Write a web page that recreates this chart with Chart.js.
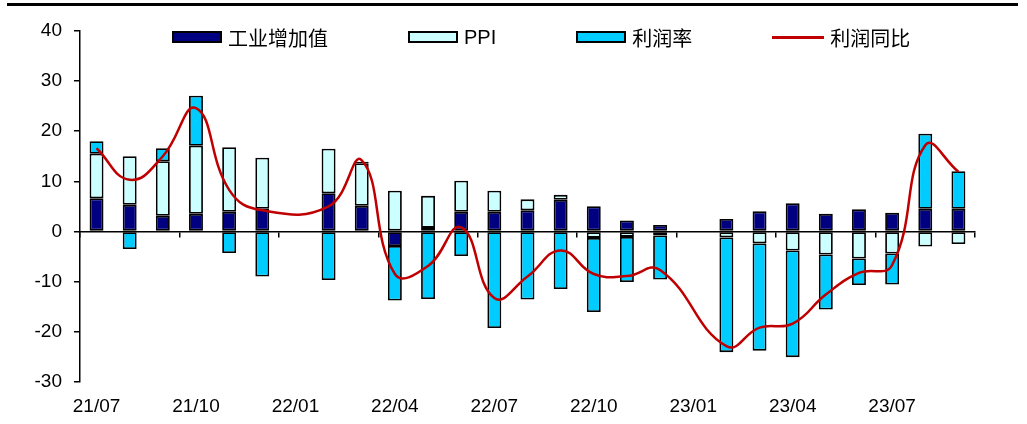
<!DOCTYPE html>
<html>
<head>
<meta charset="utf-8">
<script src="https://cdn.jsdelivr.net/npm/chart.js@4.4.0/dist/chart.umd.min.js"></script>
<style>
    body { margin: 0; background: #fff; }
    #wrap { position: relative; width: 1027px; height: 424px; }
    #topline { position: absolute; left: 7px; top: 3px; width: 1011px; height: 3px; background: #000; }
    #legend {
        position: absolute; left: 172px; top: 25px; height: 24px;
        display: flex; align-items: center;
        font-family: "Liberation Sans", "Noto Sans CJK SC", sans-serif; font-size: 20px; color: #000;
    }
    .legend-item { display: flex; align-items: center; margin-right: 80px; white-space: nowrap; }
    .swatch { width: 50px; height: 12px; box-sizing: border-box; border: 2px solid #000; margin-right: 6px; }
    .swatch.line { width: 52px; height: 3px; border: none; }
</style>
</head>
<body>
<div id="wrap">
    <canvas id="chart" width="1027" height="424"></canvas>
    <div id="topline"></div>
    <div id="legend"></div>
</div>
<script>
// months on the category axis
const months = ['21/07', '21/08', '21/09', '21/10', '21/11', '21/12', '22/01', '22/02', '22/03',
    '22/04', '22/05', '22/06', '22/07', '22/08', '22/09', '22/10', '22/11', '22/12',
    '23/01', '23/02', '23/03', '23/04', '23/05', '23/06', '23/07', '23/08', '23/09'];

// only these months get a label under the axis
const tickMonths = ['21/07', '21/10', '22/01', '22/04', '22/07', '22/10', '23/01', '23/04', '23/07'];

// bar segments (Jan is folded into Feb, so no bar there)
const valueAdded = [6.6, 5.3, 3.1, 3.5, 3.9, 4.5, null, 7.6, 5.1, -2.9, 0.7, 3.9, 3.9, 4.2,
    6.3, 5.0, 2.2, 1.3, null, 2.5, 4.0, 5.6, 3.5, 4.4, 3.7, 4.5, 4.5];
const ppi = [8.9, 9.7, 10.9, 13.6, 12.9, 10.2, null, 8.9, 8.5, 8.1, 6.4, 6.2, 4.2, 2.2,
    1.0, -1.3, -1.1, -0.8, null, -1.2, -2.4, -3.8, -4.6, -5.4, -4.4, -3.0, -2.5];
const profitMargin = [2.5, -3.5, 2.6, 10.0, -4.3, -9.0, null, -9.7, 0.3, -10.9, -13.5, -4.9, -19.3, -13.6,
    -11.5, -14.8, -9.0, -8.8, null, -22.9, -21.4, -21.3, -11.0, -5.3, -6.2, 15.0, 7.5];

// profit year on year (red line)
const profitYoY = [16.6, 10.3, 15.0, 24.6, 8.3, 4.2, null, 5.0, 14.2, -8.5, -6.9, 0.8, -13.3, -9.0,
    -3.8, -8.5, -8.9, -7.7, null, -22.9, -19.2, -18.4, -12.6, -8.3, -6.7, 17.2, 11.9];

const yMin = -30;
const yMax = 40;
const yStep = 10;

Chart.defaults.font.family = '"Liberation Sans", Arial, sans-serif';
Chart.defaults.color = '#000';

const barStyle = {
    borderColor: '#000',
    borderWidth: 1.8,
    borderSkipped: false,
    barPercentage: 0.42,
    categoryPercentage: 1,
    stack: 'bars',
    order: 1
};

const chart = new Chart(document.getElementById('chart'), {
    type: 'bar',
    data: {
        labels: months,
        datasets: [
            { label: '工业增加值', data: valueAdded, backgroundColor: '#000080', ...barStyle },
            { label: 'PPI', data: ppi, backgroundColor: '#CCFFFF', ...barStyle },
            { label: '利润率', data: profitMargin, backgroundColor: '#00CCFF', ...barStyle },
            {
                type: 'line',
                label: '利润同比',
                data: profitYoY,
                borderColor: '#C00000',
                backgroundColor: '#C00000',
                borderWidth: 2.5,
                pointRadius: 0,
                tension: 0.45,
                spanGaps: true,
                stack: 'line',
                order: 0
            }
        ]
    },
    options: {
        responsive: false,
        animation: false,
        layout: { padding: { left: 22.5, right: 52, top: 31, bottom: 5.3 } },
        plugins: {
            legend: { display: false },
            tooltip: { enabled: false }
        },
        scales: {
            x: {
                stacked: true,
                offset: true,
                grid: { display: false, drawTicks: false },
                border: { display: false },
                ticks: {
                    autoSkip: false,
                    maxRotation: 0,
                    padding: 14,
                    font: { size: 19 },
                    callback: function (value) {
                        const label = this.getLabelForValue(value);
                        return tickMonths.includes(label) ? label : '';
                    }
                },
                // chart.js counts the tick padding twice, keep the axis tight
                afterFit: (scale) => { scale.height = 37; }
            },
            // axis line drawn through zero with a tick every quarter
            x2: {
                type: 'category',
                axis: 'x',
                position: { y: 0 },
                offset: true,
                grid: {
                    offset: true,
                    drawOnChartArea: false,
                    drawTicks: true,
                    tickLength: 5,
                    lineWidth: 1.5,
                    color: (ctx) => (ctx.index === undefined || ctx.index % 3 === 0) ? '#000' : 'rgba(0,0,0,0)'
                },
                border: { display: true, color: '#000', width: 1.5 },
                ticks: { display: false }
            },
            y: {
                stacked: true,
                min: yMin,
                max: yMax,
                ticks: { stepSize: yStep, padding: 12, font: { size: 19 } },
                grid: { drawOnChartArea: false, drawTicks: true, tickLength: 6, color: '#000', lineWidth: 1.5 },
                border: { color: '#000', width: 1.5 }
            }
        }
    }
});

// legend built from the datasets
const legend = document.getElementById('legend');
chart.data.datasets.forEach(ds => {
    const item = document.createElement('div');
    item.className = 'legend-item';
    const swatch = document.createElement('span');
    swatch.className = ds.type === 'line' ? 'swatch line' : 'swatch';
    swatch.style.background = ds.backgroundColor;
    const text = document.createElement('span');
    text.textContent = ds.label;
    item.appendChild(swatch);
    item.appendChild(text);
    legend.appendChild(item);
});
</script>
</body>
</html>
